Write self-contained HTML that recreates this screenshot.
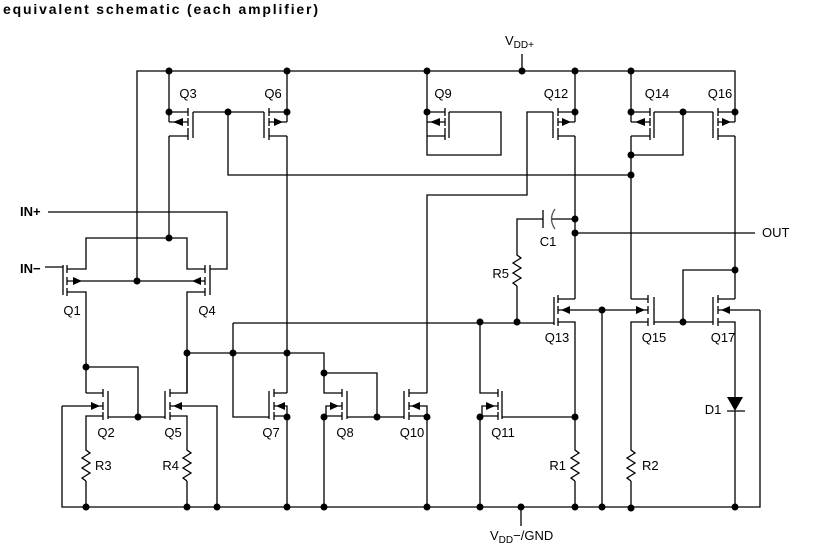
<!DOCTYPE html>
<html><head><meta charset="utf-8"><style>
html,body{margin:0;padding:0;background:#fff;}
svg{display:block;}
text{font-family:"Liberation Sans",Arial,sans-serif;font-size:13px;fill:#000;}
</style></head><body>
<svg width="829" height="552" viewBox="0 0 829 552" xmlns="http://www.w3.org/2000/svg">
<text x="3" y="14" style="font-size:14px;font-weight:bold" textLength="315">equivalent schematic (each amplifier)</text>
<g stroke="#000" stroke-width="1.3" fill="none">
<path d="M137 281 V71 H735 V112"/>
<path d="M522 54 V71"/>
<path d="M62 406 V507 H760 V310"/>
<path d="M521 507 V526"/>
<path d="M169 71 V122 M169 112 H188 M169 122 H188 M169 136 H188 V136 M188 108 V116 M188 118 V126 M188 128 V140 M193 112 V138 M193 112 H264 M169 136 V238"/>
<path d="M287 71 V122 M287 112 H269 M287 122 H269 M287 136 H269 M269 108 V116 M269 118 V126 M269 128 V140 M264 112 V138 M287 136 V393"/>
<path d="M228 112 V175 H631"/>
<path d="M427 71 V136 M427 112 H445 M427 122 H445 M427 136 H445 M445 108 V116 M445 118 V126 M445 128 V140 M449 112 V138 M449 112 H501 V155 H427 V136"/>
<path d="M575 71 V122 M575 112 H558 M575 122 H558 M575 136 H558 M558 108 V116 M558 118 V126 M558 128 V140 M553 112 V138 M553 112 H527 V195 H427 V393 M575 136 V299"/>
<path d="M631 71 V122 M631 112 H650 M631 122 H650 M631 136 H650 M650 108 V116 M650 118 V126 M650 128 V140 M654 112 V138 M654 112 H713 M683 112 V155 H631 M631 136 V299"/>
<path d="M735 112 V122 M735 112 H718 M735 122 H718 M735 136 H718 M718 108 V116 M718 118 V126 M718 128 V140 M713 112 V138 M735 136 V299 M735 270 H683 V322"/>
<path d="M45 267 H63 M63 265 V295 M67 265 V273 M67 277 V285 M67 288 V296 M67 269 H86 V238 H187 V269 H205 M67 292 H86 V393 M67 281 H205 M205 265 V273 M205 277 V285 M205 288 V296 M210 265 V295 M210 269 H227 V212 H48 M205 292 H187 V393"/>
<path d="M86 393 H103 M103 389 V397 M103 402 V410 M103 412 V420 M108 391 V419 M108 417 H165 M62 406 H103 M103 416 H86 V445 M86 481 V507"/>
<path d="M86 367 H138 V417"/>
<path d="M187 353 V393 H170 M170 389 V397 M170 402 V410 M170 412 V420 M165 391 V419 M217 507 V406 H170 M170 416 H187 V445 M187 481 V507"/>
<path d="M187 353 H287 M233 323 H554 M233 323 V417 H269"/>
<path d="M287 393 H274 M274 389 V397 M274 402 V410 M274 412 V420 M269 391 V419 M274 406 H287 V417 M274 416 H287 V507"/>
<path d="M287 353 H324 V393 H342 M324 373 H377 V417 M342 389 V397 M342 402 V410 M342 412 V420 M347 391 V419 M347 417 H404 M342 406 H326 V417 M342 416 H324 V507"/>
<path d="M427 393 H409 M409 389 V397 M409 402 V410 M409 412 V420 M404 391 V419 M409 406 H427 V417 M409 416 H427 V507"/>
<path d="M480 322 V393 H498 M498 389 V397 M498 402 V410 M498 412 V420 M502 391 V419 M502 417 H575 M498 406 H482 V417 M498 416 H480 V507"/>
<path d="M575 299 H558 M558 295 V303 M558 306 V314 M558 318 V326 M554 297 V325 M558 310 H648 M558 322 H575 V445 M575 481 V507 M602 310 V507"/>
<path d="M575 219 H552 M543 219 H517 V250 M517 286 V323 M543 210 V228 M575 233 H755"/>
<path d="M555 209 Q548 219 555 229" stroke="#555"/>
<path d="M631 299 H648 M648 295 V303 M648 306 V314 M648 318 V326 M654 297 V325 M654 322 H713 M648 322 H631 V445 M631 481 V508"/>
<path d="M735 299 H718 M718 295 V303 M718 306 V314 M718 318 V326 M713 297 V325 M718 310 H760 M718 322 H735 V397 M735 411 V507 M727 411 H745"/>
<path d="M86 445 v5 l4 3 l-8 5 l8 5 l-8 5 l8 5 l-8 5 l4 3 V481"/>
<path d="M187 445 v5 l4 3 l-8 5 l8 5 l-8 5 l8 5 l-8 5 l4 3 V481"/>
<path d="M575 445 v5 l4 3 l-8 5 l8 5 l-8 5 l8 5 l-8 5 l4 3 V481"/>
<path d="M631 445 v5 l4 3 l-8 5 l8 5 l-8 5 l8 5 l-8 5 l4 3 V481"/>
<path d="M517 250 v5 l4 3 l-8 5 l8 5 l-8 5 l8 5 l-8 5 l4 3 V286"/>
</g>
<g fill="#000">
<polygon points="173,122 183,118 183,126"/>
<polygon points="283,122 274,118 274,126"/>
<polygon points="430,122 440,118 440,126"/>
<polygon points="571,122 562,118 562,126"/>
<polygon points="635,122 645,118 645,126"/>
<polygon points="731,122 722,118 722,126"/>
<polygon points="82,281 73,277 73,285"/>
<polygon points="192,281 201,277 201,285"/>
<polygon points="100,406 91,402 91,410"/>
<polygon points="173,406 182,402 182,410"/>
<polygon points="276,406 285,402 285,410"/>
<polygon points="339,406 330,402 330,410"/>
<polygon points="411,406 420,402 420,410"/>
<polygon points="495,406 486,402 486,410"/>
<polygon points="561,310 570,306 570,314"/>
<polygon points="645,310 636,306 636,314"/>
<polygon points="721,310 730,306 730,314"/>
<polygon points="727,397 743,397 735,411"/>
<circle cx="169" cy="71" r="3.5"/><circle cx="287" cy="71" r="3.5"/><circle cx="427" cy="71" r="3.5"/><circle cx="522" cy="71" r="3.5"/><circle cx="575" cy="71" r="3.5"/><circle cx="631" cy="71" r="3.5"/>
<circle cx="169" cy="112" r="3.5"/><circle cx="228" cy="112" r="3.5"/><circle cx="287" cy="112" r="3.5"/><circle cx="427" cy="112" r="3.5"/><circle cx="575" cy="112" r="3.5"/><circle cx="631" cy="112" r="3.5"/><circle cx="683" cy="112" r="3.5"/><circle cx="735" cy="112" r="3.5"/>
<circle cx="631" cy="155" r="3.5"/><circle cx="631" cy="175" r="3.5"/>
<circle cx="575" cy="219" r="3.5"/><circle cx="575" cy="233" r="3.5"/><circle cx="735" cy="270" r="3.5"/>
<circle cx="169" cy="238" r="3.5"/><circle cx="137" cy="281" r="3.5"/>
<circle cx="480" cy="322" r="3.5"/><circle cx="517" cy="322" r="3.5"/><circle cx="602" cy="310" r="3.5"/><circle cx="683" cy="322" r="3.5"/>
<circle cx="187" cy="353" r="3.5"/><circle cx="233" cy="353" r="3.5"/><circle cx="287" cy="353" r="3.5"/><circle cx="86" cy="367" r="3.5"/><circle cx="324" cy="373" r="3.5"/>
<circle cx="138" cy="417" r="3.5"/><circle cx="287" cy="417" r="3.5"/><circle cx="324" cy="417" r="3.5"/><circle cx="377" cy="417" r="3.5"/><circle cx="427" cy="417" r="3.5"/><circle cx="480" cy="417" r="3.5"/><circle cx="575" cy="417" r="3.5"/>
<circle cx="86" cy="507" r="3.5"/><circle cx="187" cy="507" r="3.5"/><circle cx="217" cy="507" r="3.5"/><circle cx="287" cy="507" r="3.5"/><circle cx="324" cy="507" r="3.5"/><circle cx="427" cy="507" r="3.5"/><circle cx="480" cy="507" r="3.5"/><circle cx="521" cy="507" r="3.5"/><circle cx="575" cy="507" r="3.5"/><circle cx="602" cy="507" r="3.5"/><circle cx="631" cy="508" r="3.5"/><circle cx="735" cy="507" r="3.5"/>
</g>
<g>
<text x="505" y="45">V<tspan style="font-size:10px" dy="3">DD+</tspan></text>
<text x="490" y="540">V<tspan style="font-size:10px" dy="3">DD</tspan><tspan dy="-3">−/GND</tspan></text>
<text x="20" y="216" style="font-weight:bold">IN+</text>
<text x="20" y="273" style="font-weight:bold">IN−</text>
<text x="762" y="237">OUT</text>
<text x="188" y="98" text-anchor="middle">Q3</text>
<text x="273" y="98" text-anchor="middle">Q6</text>
<text x="443" y="98" text-anchor="middle">Q9</text>
<text x="556" y="98" text-anchor="middle">Q12</text>
<text x="657" y="98" text-anchor="middle">Q14</text>
<text x="720" y="98" text-anchor="middle">Q16</text>
<text x="72" y="315" text-anchor="middle">Q1</text>
<text x="207" y="315" text-anchor="middle">Q4</text>
<text x="106" y="437" text-anchor="middle">Q2</text>
<text x="173" y="437" text-anchor="middle">Q5</text>
<text x="271" y="437" text-anchor="middle">Q7</text>
<text x="345" y="437" text-anchor="middle">Q8</text>
<text x="412" y="437" text-anchor="middle">Q10</text>
<text x="503" y="437" text-anchor="middle">Q11</text>
<text x="557" y="342" text-anchor="middle">Q13</text>
<text x="654" y="342" text-anchor="middle">Q15</text>
<text x="723" y="342" text-anchor="middle">Q17</text>
<text x="95" y="470">R3</text>
<text x="179" y="470" text-anchor="end">R4</text>
<text x="566" y="470" text-anchor="end">R1</text>
<text x="642" y="470">R2</text>
<text x="509" y="278" text-anchor="end">R5</text>
<text x="548" y="246" text-anchor="middle">C1</text>
<text x="713" y="414" text-anchor="middle">D1</text>
</g>
</svg>
</body></html>
